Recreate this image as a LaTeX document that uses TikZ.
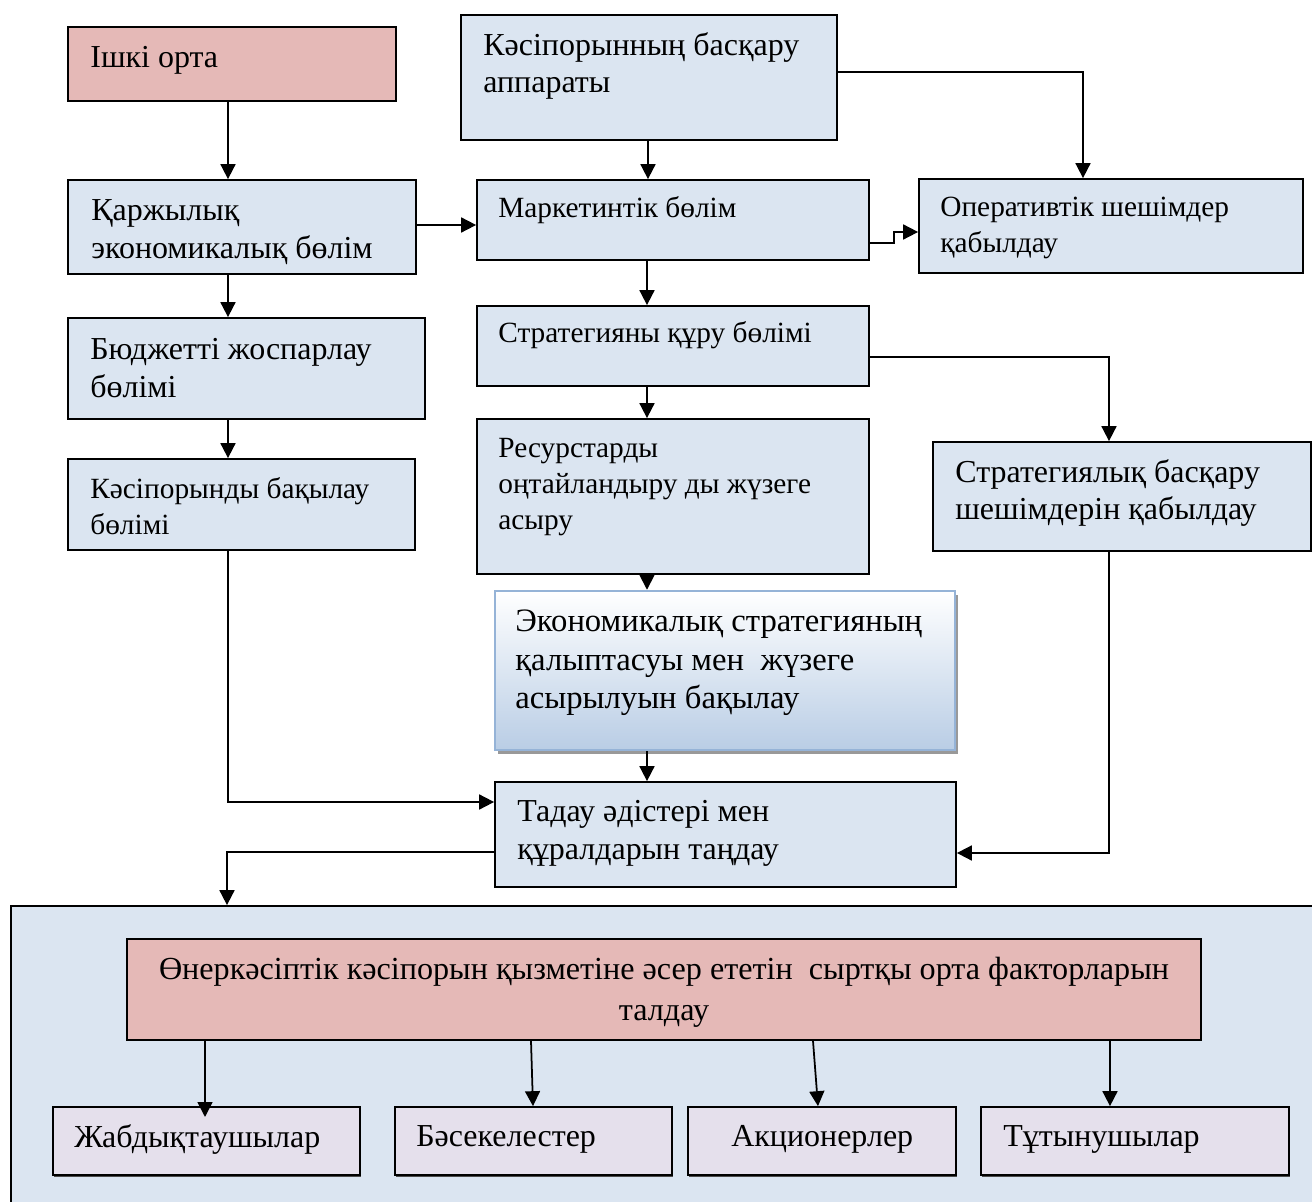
\documentclass[tikz,border=0pt]{standalone}
\usepackage{fontspec}
\setmainfont{Liberation Serif}
\usetikzlibrary{arrows.meta,fit,shadows}
\definecolor{boxblue}{HTML}{DBE5F1}
\definecolor{boxpink}{HTML}{E5B9B7}
\definecolor{boxlav}{HTML}{E5E0EC}
\definecolor{gradbot}{HTML}{B9CDE5}
\definecolor{gradborder}{HTML}{95B3D7}
\begin{document}
\begin{tikzpicture}[x=0.02cm,y=-0.02cm,
  box/.style={draw=black, line width=1pt, fill=boxblue, inner sep=0pt, rectangle},
  pinkbox/.style={box, fill=boxpink},
  lavbox/.style={box, fill=boxlav, drop shadow={shadow xshift=0.6pt, shadow yshift=-1.2pt, fill=black!70, opacity=1}},
  txt/.style={anchor=west, align=left, inner sep=0pt, font=\fontsize{18.2}{21.5}\selectfont},
  txts/.style={txt, font=\fontsize{16.7}{20.4}\selectfont},
  arr/.style={line width=1pt, -{Triangle[length=8.5pt,width=8.5pt]}},
  ln/.style={line width=1pt}]
\useasboundingbox (0,0) rectangle (1312,1202);
\clip (0,0) rectangle (1312,1202);
\fill[white] (0,0) rectangle (1312,1202);

% boxes
\node[pinkbox, fit={(68,27) (396,101)}] (ik) {};
\node[box, fit={(461,15) (837,140)}] (kb) {};
\node[box, fit={(68,180) (416,274)}] (kf) {};
\node[box, fit={(477,180) (869,260)}] (mk) {};
\node[box, fit={(919,179) (1303,273)}] (op) {};
\node[box, fit={(68,318) (425,419)}] (bj) {};
\node[box, fit={(477,306) (869,386)}] (st) {};
\node[box, fit={(68,459) (415,550)}] (kbq) {};
\node[box, fit={(477,419) (869,574)}] (rs) {};
\node[box, fit={(933,442) (1311,551)}] (sb) {};
\node[draw=gradborder, line width=1.4pt, inner sep=0pt, rectangle,
      top color=white, bottom color=gradbot,
      drop shadow={shadow xshift=1.6pt, shadow yshift=-2.2pt, fill=black!40, opacity=1},
      fit={(495,591) (955,750)}] (ec) {};
\node[box, fit={(495,782) (956,887)}] (td) {};
\node[box, fit={(11,906) (1330,1230)}] (env) {};
\node[pinkbox, fit={(127,939) (1201,1040)}] (pk) {};
\node[lavbox, fit={(53,1107) (360,1175)}] (b1) {};
\node[lavbox, fit={(395,1107) (672,1175)}] (b2) {};
\node[lavbox, fit={(688,1107) (956,1175)}] (b3) {};
\node[lavbox, fit={(981,1107) (1289,1175)}] (b4) {};

% texts
\node[txt] (t-ik) at (90,60) {Ішкі орта};
\node[txt] (t-kb) at (483,66) {Кәсіпорынның басқару\\аппараты};
\node[txt] (t-kf) at (91,232) {Қаржылық\\экономикалық бөлім};
\node[txts] (t-mk) at (498,210) {Маркетинтік бөлім};
\node[txts] (t-op) at (940,228) {Оперативтік шешімдер\\қабылдау};
\node[txt] (t-bj) at (90,368) {Бюджетті жоспарлау\\бөлімі};
\node[txts] (t-st) at (498,335) {Стратегияны құру бөлімі};
\node[txts] (t-kbq) at (90,506) {Кәсіпорынды бақылау\\бөлімі};
\node[txts] (t-rs) at (498,487) {Ресурстарды\\оңтайландыру ды жүзеге\\асыру};
\node[txt] (t-sb) at (955,493) {Стратегиялық басқару\\шешімдерін қабылдау};
\node[txt, font=\fontsize{18.6}{21.8}\selectfont] (t-ec) at (515,663) {Экономикалық стратегияның\\қалыптасуы мен\ \ жүзеге\\асырылуын бақылау};
\node[txt] (t-td) at (517,833) {Тадау әдістері мен\\құралдарын таңдау};
\node[txt, anchor=center, align=center, font=\fontsize{18.3}{23.2}\selectfont] (t-pk) at (664,992) {Өнеркәсіптік кәсіпорын қызметіне әсер ететін\ \ сыртқы орта факторларын\\талдау};
\node[txt] (t-b1) at (74,1139) {Жабдықтаушылар};
\node[txt] (t-b2) at (416,1139) {Бәсекелестер};
\node[txt] (t-b3) at (731,1139) {Акционерлер};
\node[txt] (t-b4) at (1003,1139) {Тұтынушылар};

% connectors
\draw[arr] (ik.south -| 228,0) -- (kf.north -| 228,0);
\draw[arr] (kb.south -| 648,0) -- (mk.north -| 648,0);
\draw[arr] (kb.east |- 0,72) -- (1083,72) -- (op.north -| 1083,0);
\draw[arr] (kf.east |- 0,225) -- (mk.west |- 0,225);
\draw[arr] (mk.east |- 0,243) -- (894,243) -- (894,232) -- (op.west |- 0,232);
\draw[arr] (kf.south -| 228,0) -- (bj.north -| 228,0);
\draw[arr] (mk.south -| 647,0) -- (st.north -| 647,0);
\draw[arr] (bj.south -| 228,0) -- (kbq.north -| 228,0);
\draw[arr] (st.south -| 647,0) -- (rs.north -| 647,0);
\draw[arr] (st.east |- 0,357) -- (1109,357) -- (sb.north -| 1109,0);
\draw[arr] (rs.south -| 647,0) -- (ec.north -| 647,0);
\draw[arr] (ec.south -| 647,0) -- (td.north -| 647,0);
\draw[arr] (kbq.south -| 228,0) -- (228,802) -- (td.west |- 0,802);
\draw[arr] (sb.south -| 1109,0) -- (1109,853) -- (td.east |- 0,853);
\draw[arr] (td.west |- 0,852) -- (227,852) -- (env.north -| 227,0);
\draw[arr] (pk.south -| 205,0) -- (205,1117);
\draw[arr] (pk.south -| 531,0) -- (b2.north -| 533,0);
\draw[arr] (pk.south -| 813,0) -- (b3.north -| 818,0);
\draw[arr] (pk.south -| 1110,0) -- (b4.north -| 1110,0);
\end{tikzpicture}
\end{document}
